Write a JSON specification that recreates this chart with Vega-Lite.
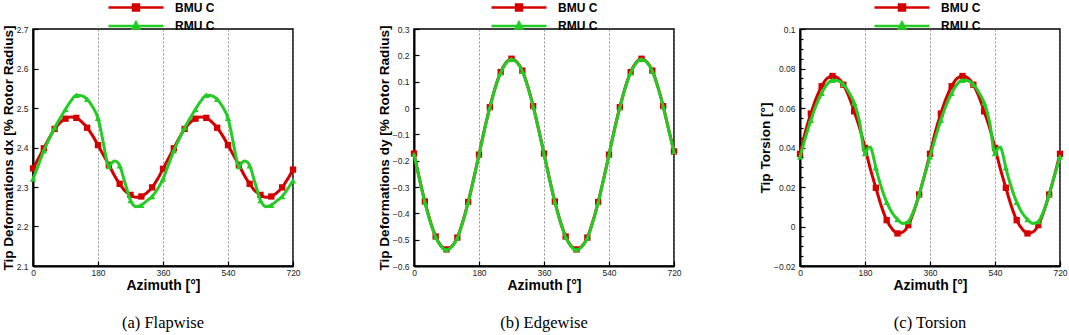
{
  "$schema": "https://vega.github.io/schema/vega-lite/v6.json",
  "background": "white",
  "padding": {"left": 0, "right": 0, "top": -3, "bottom": 0},
  "datasets": {
    "flap": [
      {"s":"BMU C","az":0,"v":2.347},{"s":"BMU C","az":15,"v":2.372},{"s":"BMU C","az":30,"v":2.398},{"s":"BMU C","az":45,"v":2.424},{"s":"BMU C","az":60,"v":2.447},{"s":"BMU C","az":75,"v":2.463},{"s":"BMU C","az":90,"v":2.473},{"s":"BMU C","az":105,"v":2.477},{"s":"BMU C","az":120,"v":2.475},{"s":"BMU C","az":135,"v":2.465},{"s":"BMU C","az":150,"v":2.45},{"s":"BMU C","az":165,"v":2.43},{"s":"BMU C","az":180,"v":2.406},{"s":"BMU C","az":195,"v":2.381},{"s":"BMU C","az":210,"v":2.356},{"s":"BMU C","az":225,"v":2.33},{"s":"BMU C","az":240,"v":2.308},{"s":"BMU C","az":255,"v":2.29},{"s":"BMU C","az":270,"v":2.28},{"s":"BMU C","az":285,"v":2.274},{"s":"BMU C","az":300,"v":2.276},{"s":"BMU C","az":315,"v":2.285},{"s":"BMU C","az":330,"v":2.299},{"s":"BMU C","az":345,"v":2.32},
      {"s":"BMU C","az":360,"v":2.346},{"s":"BMU C","az":375,"v":2.372},{"s":"BMU C","az":390,"v":2.398},{"s":"BMU C","az":405,"v":2.424},{"s":"BMU C","az":420,"v":2.447},{"s":"BMU C","az":435,"v":2.463},{"s":"BMU C","az":450,"v":2.473},{"s":"BMU C","az":465,"v":2.477},{"s":"BMU C","az":480,"v":2.475},{"s":"BMU C","az":495,"v":2.465},{"s":"BMU C","az":510,"v":2.45},{"s":"BMU C","az":525,"v":2.43},{"s":"BMU C","az":540,"v":2.406},{"s":"BMU C","az":555,"v":2.381},{"s":"BMU C","az":570,"v":2.356},{"s":"BMU C","az":585,"v":2.33},{"s":"BMU C","az":600,"v":2.308},{"s":"BMU C","az":615,"v":2.29},{"s":"BMU C","az":630,"v":2.28},{"s":"BMU C","az":645,"v":2.274},{"s":"BMU C","az":660,"v":2.276},{"s":"BMU C","az":675,"v":2.285},{"s":"BMU C","az":690,"v":2.299},{"s":"BMU C","az":705,"v":2.32},{"s":"BMU C","az":720,"v":2.344},
      {"s":"RMU C","az":0,"v":2.32},{"s":"RMU C","az":15,"v":2.356},{"s":"RMU C","az":30,"v":2.392},{"s":"RMU C","az":45,"v":2.422},{"s":"RMU C","az":60,"v":2.45},{"s":"RMU C","az":75,"v":2.474},{"s":"RMU C","az":90,"v":2.497},{"s":"RMU C","az":105,"v":2.518},{"s":"RMU C","az":120,"v":2.532},{"s":"RMU C","az":135,"v":2.531},{"s":"RMU C","az":150,"v":2.522},{"s":"RMU C","az":165,"v":2.503},{"s":"RMU C","az":180,"v":2.474},{"s":"RMU C","az":187.5,"v":2.445},{"s":"RMU C","az":195,"v":2.41},{"s":"RMU C","az":202.5,"v":2.374},{"s":"RMU C","az":210,"v":2.352},{"s":"RMU C","az":217.5,"v":2.36},{"s":"RMU C","az":225,"v":2.366},{"s":"RMU C","az":232.5,"v":2.364},{"s":"RMU C","az":240,"v":2.354},{"s":"RMU C","az":255,"v":2.31},{"s":"RMU C","az":270,"v":2.266},{"s":"RMU C","az":285,"v":2.25},{"s":"RMU C","az":300,"v":2.254},{"s":"RMU C","az":315,"v":2.265},{"s":"RMU C","az":330,"v":2.276},{"s":"RMU C","az":345,"v":2.295},
      {"s":"RMU C","az":360,"v":2.32},{"s":"RMU C","az":375,"v":2.356},{"s":"RMU C","az":390,"v":2.392},{"s":"RMU C","az":405,"v":2.422},{"s":"RMU C","az":420,"v":2.45},{"s":"RMU C","az":435,"v":2.474},{"s":"RMU C","az":450,"v":2.497},{"s":"RMU C","az":465,"v":2.518},{"s":"RMU C","az":480,"v":2.532},{"s":"RMU C","az":495,"v":2.531},{"s":"RMU C","az":510,"v":2.522},{"s":"RMU C","az":525,"v":2.503},{"s":"RMU C","az":540,"v":2.474},{"s":"RMU C","az":547.5,"v":2.445},{"s":"RMU C","az":555,"v":2.41},{"s":"RMU C","az":562.5,"v":2.374},{"s":"RMU C","az":570,"v":2.352},{"s":"RMU C","az":577.5,"v":2.36},{"s":"RMU C","az":585,"v":2.366},{"s":"RMU C","az":592.5,"v":2.364},{"s":"RMU C","az":600,"v":2.354},{"s":"RMU C","az":615,"v":2.31},{"s":"RMU C","az":630,"v":2.266},{"s":"RMU C","az":645,"v":2.25},{"s":"RMU C","az":660,"v":2.254},{"s":"RMU C","az":675,"v":2.265},{"s":"RMU C","az":690,"v":2.276},{"s":"RMU C","az":705,"v":2.295},{"s":"RMU C","az":720,"v":2.316}
    ],
    "edge": [
      {"s":"BMU C","az":0,"v":-0.173},{"s":"BMU C","az":15,"v":-0.268},{"s":"BMU C","az":30,"v":-0.355},{"s":"BMU C","az":45,"v":-0.43},{"s":"BMU C","az":60,"v":-0.488},{"s":"BMU C","az":75,"v":-0.524},{"s":"BMU C","az":90,"v":-0.537},{"s":"BMU C","az":105,"v":-0.525},{"s":"BMU C","az":120,"v":-0.492},{"s":"BMU C","az":135,"v":-0.432},{"s":"BMU C","az":150,"v":-0.357},{"s":"BMU C","az":165,"v":-0.27},{"s":"BMU C","az":180,"v":-0.177},{"s":"BMU C","az":195,"v":-0.082},{"s":"BMU C","az":210,"v":0.003},{"s":"BMU C","az":225,"v":0.078},{"s":"BMU C","az":240,"v":0.136},{"s":"BMU C","az":255,"v":0.173},{"s":"BMU C","az":270,"v":0.187},{"s":"BMU C","az":285,"v":0.175},{"s":"BMU C","az":300,"v":0.142},{"s":"BMU C","az":315,"v":0.082},{"s":"BMU C","az":330,"v":0.007},{"s":"BMU C","az":345,"v":-0.08},
      {"s":"BMU C","az":360,"v":-0.173},{"s":"BMU C","az":375,"v":-0.268},{"s":"BMU C","az":390,"v":-0.355},{"s":"BMU C","az":405,"v":-0.43},{"s":"BMU C","az":420,"v":-0.488},{"s":"BMU C","az":435,"v":-0.524},{"s":"BMU C","az":450,"v":-0.537},{"s":"BMU C","az":465,"v":-0.525},{"s":"BMU C","az":480,"v":-0.492},{"s":"BMU C","az":495,"v":-0.432},{"s":"BMU C","az":510,"v":-0.357},{"s":"BMU C","az":525,"v":-0.27},{"s":"BMU C","az":540,"v":-0.177},{"s":"BMU C","az":555,"v":-0.082},{"s":"BMU C","az":570,"v":0.003},{"s":"BMU C","az":585,"v":0.078},{"s":"BMU C","az":600,"v":0.136},{"s":"BMU C","az":615,"v":0.173},{"s":"BMU C","az":630,"v":0.187},{"s":"BMU C","az":645,"v":0.175},{"s":"BMU C","az":660,"v":0.142},{"s":"BMU C","az":675,"v":0.082},{"s":"BMU C","az":690,"v":0.007},{"s":"BMU C","az":705,"v":-0.08},{"s":"BMU C","az":720,"v":-0.165},
      {"s":"RMU C","az":0,"v":-0.175},{"s":"RMU C","az":15,"v":-0.27},{"s":"RMU C","az":30,"v":-0.357},{"s":"RMU C","az":45,"v":-0.432},{"s":"RMU C","az":60,"v":-0.49},{"s":"RMU C","az":75,"v":-0.526},{"s":"RMU C","az":90,"v":-0.539},{"s":"RMU C","az":105,"v":-0.527},{"s":"RMU C","az":120,"v":-0.494},{"s":"RMU C","az":135,"v":-0.434},{"s":"RMU C","az":150,"v":-0.359},{"s":"RMU C","az":165,"v":-0.272},{"s":"RMU C","az":180,"v":-0.179},{"s":"RMU C","az":195,"v":-0.084},{"s":"RMU C","az":210,"v":0.001},{"s":"RMU C","az":225,"v":0.076},{"s":"RMU C","az":240,"v":0.134},{"s":"RMU C","az":255,"v":0.171},{"s":"RMU C","az":270,"v":0.185},{"s":"RMU C","az":285,"v":0.173},{"s":"RMU C","az":300,"v":0.14},{"s":"RMU C","az":315,"v":0.08},{"s":"RMU C","az":330,"v":0.005},{"s":"RMU C","az":345,"v":-0.082},
      {"s":"RMU C","az":360,"v":-0.175},{"s":"RMU C","az":375,"v":-0.27},{"s":"RMU C","az":390,"v":-0.357},{"s":"RMU C","az":405,"v":-0.432},{"s":"RMU C","az":420,"v":-0.49},{"s":"RMU C","az":435,"v":-0.526},{"s":"RMU C","az":450,"v":-0.539},{"s":"RMU C","az":465,"v":-0.527},{"s":"RMU C","az":480,"v":-0.494},{"s":"RMU C","az":495,"v":-0.434},{"s":"RMU C","az":510,"v":-0.359},{"s":"RMU C","az":525,"v":-0.272},{"s":"RMU C","az":540,"v":-0.179},{"s":"RMU C","az":555,"v":-0.084},{"s":"RMU C","az":570,"v":0.001},{"s":"RMU C","az":585,"v":0.076},{"s":"RMU C","az":600,"v":0.134},{"s":"RMU C","az":615,"v":0.171},{"s":"RMU C","az":630,"v":0.185},{"s":"RMU C","az":645,"v":0.173},{"s":"RMU C","az":660,"v":0.14},{"s":"RMU C","az":675,"v":0.08},{"s":"RMU C","az":690,"v":0.005},{"s":"RMU C","az":705,"v":-0.082},{"s":"RMU C","az":720,"v":-0.167}
    ],
    "tors": [
      {"s":"BMU C","az":0,"v":0.0368},{"s":"BMU C","az":15,"v":0.048},{"s":"BMU C","az":30,"v":0.0572},{"s":"BMU C","az":45,"v":0.065},{"s":"BMU C","az":60,"v":0.071},{"s":"BMU C","az":75,"v":0.075},{"s":"BMU C","az":90,"v":0.0762},{"s":"BMU C","az":105,"v":0.0752},{"s":"BMU C","az":120,"v":0.0718},{"s":"BMU C","az":135,"v":0.066},{"s":"BMU C","az":150,"v":0.0583},{"s":"BMU C","az":165,"v":0.05},{"s":"BMU C","az":180,"v":0.0398},{"s":"BMU C","az":195,"v":0.029},{"s":"BMU C","az":210,"v":0.0196},{"s":"BMU C","az":225,"v":0.0105},{"s":"BMU C","az":240,"v":0.0032},{"s":"BMU C","az":255,"v":-0.0012},{"s":"BMU C","az":270,"v":-0.0035},{"s":"BMU C","az":285,"v":-0.0028},{"s":"BMU C","az":300,"v":0.0007},{"s":"BMU C","az":315,"v":0.0075},{"s":"BMU C","az":330,"v":0.0162},{"s":"BMU C","az":345,"v":0.026},
      {"s":"BMU C","az":360,"v":0.0368},{"s":"BMU C","az":375,"v":0.048},{"s":"BMU C","az":390,"v":0.0572},{"s":"BMU C","az":405,"v":0.065},{"s":"BMU C","az":420,"v":0.071},{"s":"BMU C","az":435,"v":0.075},{"s":"BMU C","az":450,"v":0.0762},{"s":"BMU C","az":465,"v":0.0752},{"s":"BMU C","az":480,"v":0.0718},{"s":"BMU C","az":495,"v":0.066},{"s":"BMU C","az":510,"v":0.0583},{"s":"BMU C","az":525,"v":0.05},{"s":"BMU C","az":540,"v":0.0398},{"s":"BMU C","az":555,"v":0.029},{"s":"BMU C","az":570,"v":0.0196},{"s":"BMU C","az":585,"v":0.0105},{"s":"BMU C","az":600,"v":0.0032},{"s":"BMU C","az":615,"v":-0.0012},{"s":"BMU C","az":630,"v":-0.0035},{"s":"BMU C","az":645,"v":-0.0028},{"s":"BMU C","az":660,"v":0.0007},{"s":"BMU C","az":675,"v":0.0075},{"s":"BMU C","az":690,"v":0.0162},{"s":"BMU C","az":705,"v":0.026},{"s":"BMU C","az":720,"v":0.0368},
      {"s":"RMU C","az":0,"v":0.0353},{"s":"RMU C","az":15,"v":0.045},{"s":"RMU C","az":30,"v":0.0538},{"s":"RMU C","az":45,"v":0.0615},{"s":"RMU C","az":60,"v":0.0675},{"s":"RMU C","az":75,"v":0.072},{"s":"RMU C","az":90,"v":0.074},{"s":"RMU C","az":105,"v":0.0738},{"s":"RMU C","az":120,"v":0.072},{"s":"RMU C","az":135,"v":0.068},{"s":"RMU C","az":150,"v":0.0626},{"s":"RMU C","az":165,"v":0.053},{"s":"RMU C","az":180,"v":0.037},{"s":"RMU C","az":187.5,"v":0.0395},{"s":"RMU C","az":195,"v":0.0402},{"s":"RMU C","az":202.5,"v":0.036},{"s":"RMU C","az":210,"v":0.0297},{"s":"RMU C","az":225,"v":0.02},{"s":"RMU C","az":240,"v":0.0123},{"s":"RMU C","az":255,"v":0.007},{"s":"RMU C","az":270,"v":0.0036},{"s":"RMU C","az":285,"v":0.0015},{"s":"RMU C","az":300,"v":0.0025},{"s":"RMU C","az":315,"v":0.008},{"s":"RMU C","az":330,"v":0.0162},{"s":"RMU C","az":345,"v":0.026},
      {"s":"RMU C","az":360,"v":0.0353},{"s":"RMU C","az":375,"v":0.045},{"s":"RMU C","az":390,"v":0.0538},{"s":"RMU C","az":405,"v":0.0615},{"s":"RMU C","az":420,"v":0.0675},{"s":"RMU C","az":435,"v":0.072},{"s":"RMU C","az":450,"v":0.074},{"s":"RMU C","az":465,"v":0.0738},{"s":"RMU C","az":480,"v":0.072},{"s":"RMU C","az":495,"v":0.068},{"s":"RMU C","az":510,"v":0.0626},{"s":"RMU C","az":525,"v":0.053},{"s":"RMU C","az":540,"v":0.037},{"s":"RMU C","az":547.5,"v":0.0395},{"s":"RMU C","az":555,"v":0.0402},{"s":"RMU C","az":562.5,"v":0.036},{"s":"RMU C","az":570,"v":0.0297},{"s":"RMU C","az":585,"v":0.02},{"s":"RMU C","az":600,"v":0.0123},{"s":"RMU C","az":615,"v":0.007},{"s":"RMU C","az":630,"v":0.0036},{"s":"RMU C","az":645,"v":0.0015},{"s":"RMU C","az":660,"v":0.0025},{"s":"RMU C","az":675,"v":0.008},{"s":"RMU C","az":690,"v":0.0162},{"s":"RMU C","az":705,"v":0.026},{"s":"RMU C","az":720,"v":0.0353}
    ]
  },
  "config": {
    "font": "Liberation Sans",
    "view": {"stroke": "black", "strokeWidth": 1.5},
    "concat": {"spacing": 75},
    "axis": {
      "domainColor": "black", "domainWidth": 2,
      "tickColor": "black", "tickWidth": 1.2,
      "labelFont": "Liberation Sans", "labelFontSize": 8.5, "labelColor": "#222",
      "titleFont": "Liberation Sans", "titleFontWeight": "bold", "titleColor": "black"
    },
    "legend": {
      "orient": "none", "direction": "vertical",
      "labelFont": "Liberation Sans", "labelFontSize": 12, "labelFontWeight": "bold", "labelColor": "black",
      "symbolSize": 256, "labelOffset": 49, "rowPadding": 0.6, "padding": 0, "title": null
    },
    "title": {"orient": "bottom", "font": "Liberation Serif", "fontSize": 16.5, "fontWeight": "normal", "color": "black", "offset": 22, "anchor": "middle"}
  },
  "resolve": {"legend": {"color": "independent", "shape": "independent"}},
  "hconcat": [
    {
      "title": "(a) Flapwise",
      "width": 260, "height": 237,
      "data": {"name": "flap"},
      "encoding": {
        "x": {"field": "az", "type": "quantitative", "scale": {"domain": [0, 720], "nice": false},
          "axis": {"title": "Azimuth [°]", "titleFontSize": 14, "titlePadding": 2, "values": [0, 180, 360, 540, 720], "tickSize": -5, "labelPadding": 7, "grid": true, "gridColor": "#777", "gridDash": [2, 2], "gridWidth": 0.8, "labelFlush": false}},
        "y": {"field": "v", "type": "quantitative", "scale": {"domain": [2.1, 2.7], "nice": false, "zero": false},
          "axis": {"title": "Tip Deformations dx [% Rotor Radius]", "titleFontSize": 13.6, "titlePadding": 1, "values": [2.1, 2.2, 2.3, 2.4, 2.5, 2.6, 2.7], "tickSize": -5, "labelPadding": 10, "grid": false, "format": ".1f"}},
        "color": {"field": "s", "type": "nominal", "scale": {"domain": ["BMU C", "RMU C"], "range": ["#d40000", "#22cc22"]}}
      },
      "layer": [
        {"transform": [{"filter": "datum.s == 'BMU C'"}], "mark": {"type": "line", "interpolate": "monotone", "strokeWidth": 3},
          "encoding": {"color": {"field": "s", "type": "nominal", "scale": {"domain": ["BMU C", "RMU C"], "range": ["#d40000", "#22cc22"]},
            "legend": {"legendX": 74, "legendY": -31, "values": ["BMU C", "RMU C"],
              "encode": {"symbols": {"update": {"shape": {"signal": "datum.value == 'BMU C' ? 'M-1,0H5.875M2.0625,-0.375H2.8125V0.375H2.0625Z' : 'M-1,0H5.875M2.4375,-0.45L2.8375,0.3H2.0375Z'"}, "fill": {"signal": "datum.value == 'BMU C' ? '#d40000' : '#22cc22'"}, "stroke": {"signal": "datum.value == 'BMU C' ? '#d40000' : '#22cc22'"}, "strokeWidth": {"value": 2.5}, "opacity": {"value": 1}}}}}}}},
        {"transform": [{"filter": "datum.s == 'BMU C' && datum.az % 30 == 0"}], "mark": {"type": "square", "size": 40, "opacity": 1}, "encoding": {"color": {"field": "s", "type": "nominal", "legend": null}}},
        {"transform": [{"filter": "datum.s == 'RMU C'"}], "mark": {"type": "line", "interpolate": "monotone", "strokeWidth": 3}, "encoding": {"color": {"field": "s", "type": "nominal", "legend": null}}},
        {"transform": [{"filter": "datum.s == 'RMU C' && datum.az % 30 == 0"}], "mark": {"type": "point", "shape": "triangle-up", "filled": true, "size": 40, "opacity": 1}, "encoding": {"color": {"field": "s", "type": "nominal", "legend": null}}}
      ]
    },
    {
      "title": "(b) Edgewise",
      "width": 260, "height": 237,
      "data": {"name": "edge"},
      "encoding": {
        "x": {"field": "az", "type": "quantitative", "scale": {"domain": [0, 720], "nice": false},
          "axis": {"title": "Azimuth [°]", "titleFontSize": 14, "titlePadding": 2, "values": [0, 180, 360, 540, 720], "tickSize": -5, "labelPadding": 7, "grid": true, "gridColor": "#777", "gridDash": [2, 2], "gridWidth": 0.8, "labelFlush": false}},
        "y": {"field": "v", "type": "quantitative", "scale": {"domain": [-0.6, 0.3], "nice": false, "zero": false},
          "axis": {"title": "Tip Deformations dy [% Rotor Radius]", "titleFontSize": 13.6, "titlePadding": 1, "values": [-0.6, -0.5, -0.4, -0.3, -0.2, -0.1, 0, 0.1, 0.2, 0.3], "tickSize": -5, "labelPadding": 10, "grid": false, "labelExpr": "datum.value == 0 ? '0' : format(datum.value, '.1f')"}},
        "color": {"field": "s", "type": "nominal", "scale": {"domain": ["BMU C", "RMU C"], "range": ["#d40000", "#22cc22"]}}
      },
      "layer": [
        {"transform": [{"filter": "datum.s == 'BMU C'"}], "mark": {"type": "line", "interpolate": "monotone", "strokeWidth": 3},
          "encoding": {"color": {"field": "s", "type": "nominal", "scale": {"domain": ["BMU C", "RMU C"], "range": ["#d40000", "#22cc22"]},
            "legend": {"legendX": 76, "legendY": -31, "values": ["BMU C", "RMU C"],
              "encode": {"symbols": {"update": {"shape": {"signal": "datum.value == 'BMU C' ? 'M-1,0H5.875M2.0625,-0.375H2.8125V0.375H2.0625Z' : 'M-1,0H5.875M2.4375,-0.45L2.8375,0.3H2.0375Z'"}, "fill": {"signal": "datum.value == 'BMU C' ? '#d40000' : '#22cc22'"}, "stroke": {"signal": "datum.value == 'BMU C' ? '#b00000' : '#22cc22'"}, "strokeWidth": {"value": 2.5}, "opacity": {"value": 1}}}}}}}},
        {"transform": [{"filter": "datum.s == 'BMU C' && datum.az % 30 == 0"}], "mark": {"type": "square", "size": 40, "opacity": 1}, "encoding": {"color": {"field": "s", "type": "nominal", "legend": null}}},
        {"transform": [{"filter": "datum.s == 'RMU C'"}], "mark": {"type": "line", "interpolate": "monotone", "strokeWidth": 3}, "encoding": {"color": {"field": "s", "type": "nominal", "legend": null}}},
        {"transform": [{"filter": "datum.s == 'RMU C' && datum.az % 30 == 0"}], "mark": {"type": "point", "shape": "triangle-up", "filled": true, "size": 30, "opacity": 1}, "encoding": {"color": {"field": "s", "type": "nominal", "legend": null}}}
      ]
    },
    {
      "title": "(c) Torsion",
      "width": 260, "height": 237,
      "data": {"name": "tors"},
      "encoding": {
        "x": {"field": "az", "type": "quantitative", "scale": {"domain": [0, 720], "nice": false},
          "axis": {"title": "Azimuth [°]", "titleFontSize": 14, "titlePadding": 2, "values": [0, 180, 360, 540, 720], "tickSize": -5, "labelPadding": 7, "grid": true, "gridColor": "#777", "gridDash": [2, 2], "gridWidth": 0.8, "labelFlush": false}},
        "y": {"field": "v", "type": "quantitative", "scale": {"domain": [-0.02, 0.1], "nice": false, "zero": false},
          "axis": {"title": "Tip Torsion [°]", "titleFontSize": 13.6, "titlePadding": 1,
            "values": [-0.02, -0.015, -0.01, -0.005, 0, 0.005, 0.01, 0.015, 0.02, 0.025, 0.03, 0.035, 0.04, 0.045, 0.05, 0.055, 0.06, 0.065, 0.07, 0.075, 0.08, 0.085, 0.09, 0.095, 0.1],
            "tickSize": {"condition": {"test": "abs(datum.value * 50 - round(datum.value * 50)) < 0.01", "value": -5}, "value": -3},
            "labelPadding": 10, "grid": false,
            "labelExpr": "abs(datum.value * 50 - round(datum.value * 50)) < 0.01 ? (abs(datum.value) < 1e-9 ? '0' : replace(format(datum.value, '.2f'), /0$/, '')) : ''"}},
        "color": {"field": "s", "type": "nominal", "scale": {"domain": ["BMU C", "RMU C"], "range": ["#d40000", "#22cc22"]}}
      },
      "layer": [
        {"transform": [{"filter": "datum.s == 'BMU C'"}], "mark": {"type": "line", "interpolate": "monotone", "strokeWidth": 3},
          "encoding": {"color": {"field": "s", "type": "nominal", "scale": {"domain": ["BMU C", "RMU C"], "range": ["#d40000", "#22cc22"]},
            "legend": {"legendX": 73, "legendY": -31, "values": ["BMU C", "RMU C"],
              "encode": {"symbols": {"update": {"shape": {"signal": "datum.value == 'BMU C' ? 'M-1,0H5.875M2.0625,-0.375H2.8125V0.375H2.0625Z' : 'M-1,0H5.875M2.4375,-0.45L2.8375,0.3H2.0375Z'"}, "fill": {"signal": "datum.value == 'BMU C' ? '#d40000' : '#22cc22'"}, "stroke": {"signal": "datum.value == 'BMU C' ? '#d40000' : '#22cc22'"}, "strokeWidth": {"value": 2.5}, "opacity": {"value": 1}}}}}}}},
        {"transform": [{"filter": "datum.s == 'BMU C' && datum.az % 30 == 0"}], "mark": {"type": "square", "size": 40, "opacity": 1}, "encoding": {"color": {"field": "s", "type": "nominal", "legend": null}}},
        {"transform": [{"filter": "datum.s == 'RMU C'"}], "mark": {"type": "line", "interpolate": "monotone", "strokeWidth": 3}, "encoding": {"color": {"field": "s", "type": "nominal", "legend": null}}},
        {"transform": [{"filter": "datum.s == 'RMU C' && datum.az % 30 == 0"}], "mark": {"type": "point", "shape": "triangle-up", "filled": true, "size": 40, "opacity": 1}, "encoding": {"color": {"field": "s", "type": "nominal", "legend": null}}}
      ]
    }
  ]
}
